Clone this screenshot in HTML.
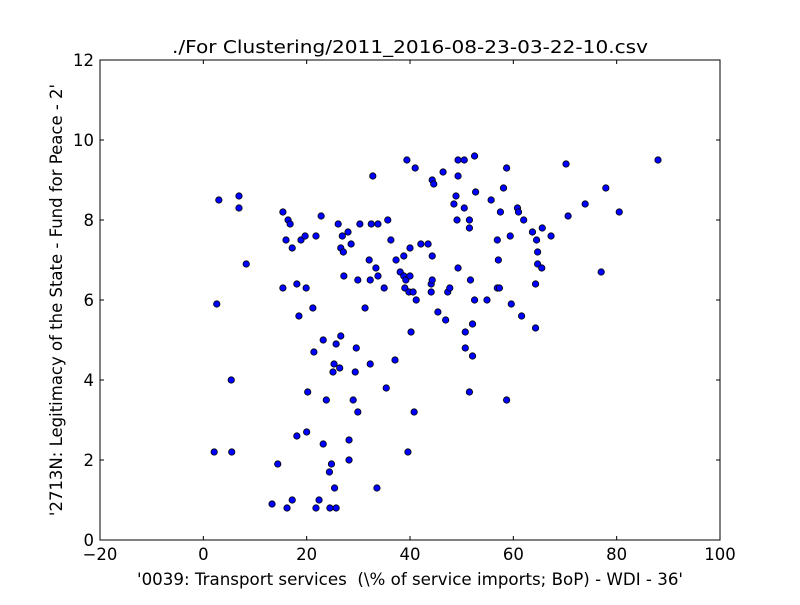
<!DOCTYPE html>
<html><head><meta charset="utf-8"><style>
body{margin:0;background:#fff;}
svg text{font-family:"DejaVu Sans","Liberation Sans",sans-serif;fill:#000;white-space:pre;}
</style></head><body>
<svg id="chart" width="800" height="600" xmlns="http://www.w3.org/2000/svg">
<rect width="800" height="600" fill="#fff"/>
<g id="marks"></g>
<rect x="100" y="60" width="620" height="480" fill="none" stroke="#000" stroke-width="1"/>
<g id="axes"></g>
<text x="410" y="53" text-anchor="middle" font-size="18" textLength="476" lengthAdjust="spacingAndGlyphs">./For Clustering/2011_2016-08-23-03-22-10.csv</text>
<text x="410" y="585" text-anchor="middle" font-size="16.5" textLength="546" lengthAdjust="spacingAndGlyphs">'0039: Transport services &#160;(\% of service imports; BoP) - WDI - 36'</text>
<text transform="translate(62,300) rotate(-90)" text-anchor="middle" font-size="16.5">'2713N: Legitimacy of the State - Fund for Peace - 2'</text>
</svg>
<script>
const xTicks=[-20,0,20,40,60,80,100];
const yTicks=[0,2,4,6,8,10,12];
const xVals=[3.0,6.9,6.9,8.3,2.6,5.4,2.1,5.5,15.4,16.4,16.8,16.0,17.2,15.4,18.1,18.5,18.9,19.7,19.9,21.8,22.8,21.2,21.4,23.2,20.2,20.0,18.1,23.2,23.8,14.4,24.4,24.8,25.4,22.4,21.8,17.2,16.2,13.3,24.5,25.7,25.3,25.1,25.7,26.6,26.4,26.1,26.6,26.9,27.1,28.0,27.2,28.6,28.2,28.2,29.0,29.4,29.6,29.9,29.9,30.3,31.3,32.3,32.5,32.8,32.1,32.3,33.4,33.8,33.8,33.6,35.0,35.4,35.7,36.3,37.1,37.3,38.1,38.8,38.8,39.2,39.0,39.4,39.6,40.0,40.0,39.8,40.2,40.6,41.0,40.8,41.2,42.1,43.5,44.3,44.1,44.1,44.3,44.3,44.6,45.4,46.4,46.9,47.3,47.7,48.5,48.9,49.3,49.3,49.1,49.3,50.5,50.5,50.7,50.7,51.5,51.5,51.7,51.5,52.1,52.1,52.5,52.5,52.7,54.9,55.7,56.9,57.1,56.9,57.3,57.5,58.1,58.7,58.7,59.4,59.6,60.8,61.0,61.6,62.0,63.7,64.3,64.3,64.5,64.7,64.7,65.5,65.6,67.3,70.2,70.6,73.9,77.0,77.9,80.5,88.0];
const yVals=[8.5,8.6,8.3,6.9,5.9,4.0,2.2,2.2,8.2,8.0,7.9,7.5,7.3,6.3,6.4,5.6,7.5,7.6,6.3,7.6,8.1,5.8,4.7,5.0,3.7,2.7,2.6,2.4,3.5,1.9,1.7,1.9,1.3,1.0,0.8,1.0,0.8,0.9,0.8,0.8,4.4,4.2,4.9,5.1,4.3,7.9,7.3,7.6,7.2,7.7,6.6,7.4,2.5,2.0,3.5,4.2,4.8,3.2,6.5,7.9,5.8,4.4,7.9,9.1,7.0,6.5,6.8,7.9,6.6,1.3,6.3,3.8,8.0,7.5,4.5,7.0,6.7,7.1,6.6,6.5,6.3,9.5,2.2,6.6,7.3,6.2,5.2,6.2,9.3,3.2,6.0,7.4,7.4,7.1,6.4,6.2,6.5,9.0,8.9,5.7,9.2,5.5,6.2,6.3,8.4,8.6,9.5,9.1,8.0,6.8,9.5,8.3,5.2,4.8,8.0,7.8,6.5,3.7,5.4,4.6,9.6,6.0,8.7,6.0,8.5,7.5,7.0,6.3,6.3,8.2,8.8,9.3,3.5,7.6,5.9,8.3,8.2,5.6,8.0,7.7,6.4,5.3,7.5,7.2,6.9,6.8,7.8,7.6,9.4,8.1,8.4,6.7,8.8,8.2,9.5];
const NS="http://www.w3.org/2000/svg";
const X=v=>100+(v+20)/120*620;
const Y=v=>540-v/12*480;
const marks=document.getElementById('marks');
for(let i=0;i<xVals.length;i++){
  const c=document.createElementNS(NS,'circle');
  c.setAttribute('cx',X(xVals[i]));c.setAttribute('cy',Y(yVals[i]));c.setAttribute('r',3.2);
  c.setAttribute('fill','#0000ff');c.setAttribute('stroke','#000');c.setAttribute('stroke-width','0.8');
  
  
  marks.appendChild(c);
}
const axes=document.getElementById('axes');
function line(x1,y1,x2,y2){const l=document.createElementNS(NS,'line');l.setAttribute('x1',x1);l.setAttribute('y1',y1);l.setAttribute('x2',x2);l.setAttribute('y2',y2);l.setAttribute('stroke','#000');


axes.appendChild(l);}
function txt(x,y,s,a){const t=document.createElementNS(NS,'text');t.setAttribute('x',x);t.setAttribute('y',y);t.setAttribute('text-anchor',a);t.setAttribute('font-size','16.5');t.textContent=s;


axes.appendChild(t);}
xTicks.forEach(v=>{const x=X(v);line(x,540,x,536);line(x,60,x,64);txt(x,560,String(v).replace('-','\u2212'),'middle');});
yTicks.forEach(v=>{const y=Y(v);line(100,y,104,y);line(720,y,716,y);txt(94,y+6,String(v),'end');});
</script>
</body></html>
